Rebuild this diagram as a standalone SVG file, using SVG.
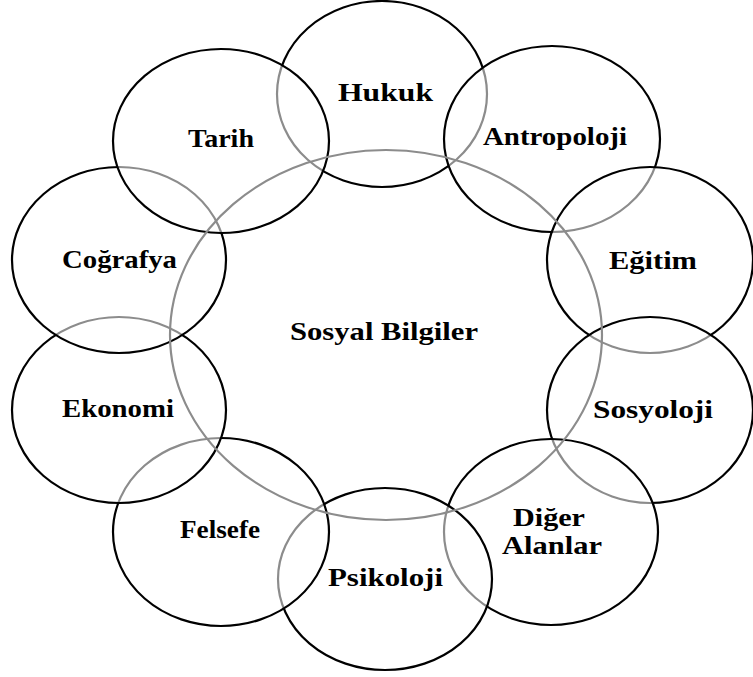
<svg xmlns="http://www.w3.org/2000/svg" width="753" height="677" viewBox="0 0 753 677">
<style>
.c{fill:#fff;fill-opacity:0.55;stroke:#000;stroke-width:2.2}
.ctr{fill:none;stroke:#8c8c8c;stroke-width:2.2}
.t{font-family:"Liberation Serif","Times New Roman",serif;font-weight:bold;font-size:25px;fill:#000}
</style>
<rect width="753" height="677" fill="#fff"/>
<g id="hukuk"><ellipse class="c" cx="382" cy="94" rx="105" ry="93"/><text class="t" x="338" y="101" textLength="95" lengthAdjust="spacingAndGlyphs">Hukuk</text></g>
<g id="antropoloji"><ellipse class="c" cx="552" cy="139" rx="108" ry="93"/><text class="t" x="483" y="145" textLength="144" lengthAdjust="spacingAndGlyphs">Antropoloji</text></g>
<g id="egitim"><ellipse class="c" cx="650" cy="260" rx="103" ry="93"/><text class="t" x="609" y="269" textLength="88" lengthAdjust="spacingAndGlyphs">Eğitim</text></g>
<g id="sosyoloji"><ellipse class="c" cx="650" cy="410" rx="103" ry="93"/><text class="t" x="593" y="418" textLength="120" lengthAdjust="spacingAndGlyphs">Sosyoloji</text></g>
<g id="diger"><ellipse class="c" cx="551" cy="532" rx="107" ry="93"/><text class="t" x="513" y="526" textLength="72" lengthAdjust="spacingAndGlyphs">Diğer</text><text class="t" x="502" y="554" textLength="100" lengthAdjust="spacingAndGlyphs">Alanlar</text></g>
<g id="psikoloji"><ellipse class="c" cx="385" cy="579" rx="107" ry="91"/><text class="t" x="328" y="586" textLength="115" lengthAdjust="spacingAndGlyphs">Psikoloji</text></g>
<g id="felsefe"><ellipse class="c" cx="221" cy="532" rx="108" ry="94"/><text class="t" x="180" y="538" textLength="80" lengthAdjust="spacingAndGlyphs">Felsefe</text></g>
<g id="ekonomi"><ellipse class="c" cx="119" cy="410" rx="107" ry="93"/><text class="t" x="62" y="417" textLength="112" lengthAdjust="spacingAndGlyphs">Ekonomi</text></g>
<g id="cografya"><ellipse class="c" cx="119" cy="260" rx="107" ry="93"/><text class="t" x="62" y="268" textLength="115" lengthAdjust="spacingAndGlyphs">Coğrafya</text></g>
<g id="tarih"><ellipse class="c" cx="221" cy="141" rx="108" ry="92"/><text class="t" x="188" y="147" textLength="66" lengthAdjust="spacingAndGlyphs">Tarih</text></g>
<g id="sosyal-bilgiler"><ellipse class="ctr" cx="386" cy="335" rx="216" ry="185"/><text class="t" x="290" y="340" textLength="188" lengthAdjust="spacingAndGlyphs">Sosyal Bilgiler</text></g>
<g id="connectors"></g>
</svg>
